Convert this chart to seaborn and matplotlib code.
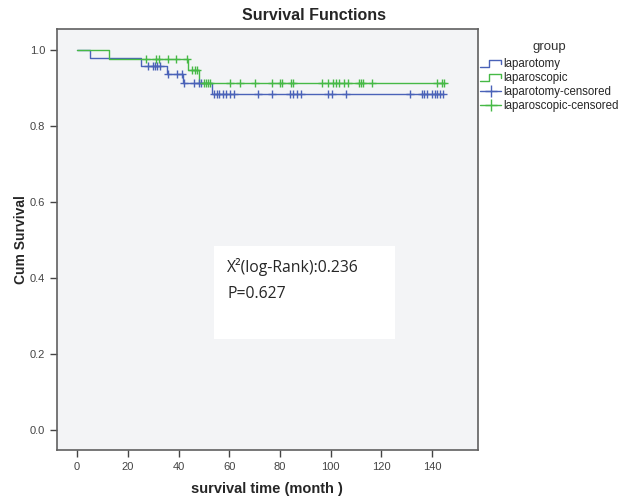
import matplotlib
matplotlib.use('Agg')
import matplotlib.pyplot as plt
import seaborn as sns
import numpy as np
import pandas as pd
from matplotlib.lines import Line2D
from matplotlib.patches import Rectangle
from matplotlib.legend_handler import HandlerBase

# Kaplan-Meier steps (time in months, cumulative survival)
lap_open_time = [0, 5.2, 25.2, 35.4, 41.9, 53.1, 144.4]
lap_open_surv = [1.0, 0.980, 0.959, 0.937, 0.914, 0.884, 0.884]
lap_scope_time = [0, 12.4, 43.7, 48.1, 144.8]
lap_scope_surv = [1.0, 0.978, 0.947, 0.914, 0.914]

# censored observations
lap_open_cens = [28.1, 29.9, 30.8, 31.6, 32.7, 36.0, 39.2, 41.3, 42.2, 46.2, 48.2, 49.0,
                 53.8, 55.0, 56.1, 57.4, 58.8, 60.4, 61.9, 71.3, 77.0, 84.0, 85.3, 86.8,
                 88.2, 99.1, 100.5, 106.2, 131.2, 136.0, 136.9, 138.0, 140.1, 141.0,
                 141.8, 143.2, 144.4]
lap_scope_cens = [27.2, 31.3, 32.2, 35.8, 39.0, 43.3, 45.3, 46.6, 47.3, 50.0, 50.8, 51.5,
                  52.5, 60.2, 64.1, 70.2, 76.8, 80.1, 81.0, 84.2, 85.3, 96.5, 99.1, 101.0,
                  102.2, 103.2, 105.1, 107.0, 111.0, 111.8, 112.6, 116.2, 141.9, 143.9,
                  144.8]

blue = '#4a62b8'
green = '#46b946'


def surv_at(times, survs, t):
    i = np.searchsorted(times, t, side='right') - 1
    return np.array(survs)[i]


sns.set_style('ticks')
plt.rcParams['font.family'] = ['Liberation Sans', 'DejaVu Sans']

fig = plt.figure(figsize=(6.18, 4.99), dpi=100)
ax = fig.add_axes([0.092, 0.098, 0.681, 0.843])
ax.set_facecolor('#f3f4f6')

df_open = pd.DataFrame({'time': lap_open_time, 'surv': lap_open_surv})
df_scope = pd.DataFrame({'time': lap_scope_time, 'surv': lap_scope_surv})
sns.lineplot(data=df_open, x='time', y='surv', color=blue, lw=1,
             drawstyle='steps-post', estimator=None, ax=ax)
sns.lineplot(data=df_scope, x='time', y='surv', color=green, lw=1,
             drawstyle='steps-post', estimator=None, ax=ax)

c_open = pd.DataFrame({'time': lap_open_cens,
                       'surv': surv_at(lap_open_time, lap_open_surv, lap_open_cens)})
c_scope = pd.DataFrame({'time': lap_scope_cens,
                        'surv': surv_at(lap_scope_time, lap_scope_surv, lap_scope_cens)})
ax.scatter(c_open['time'], c_open['surv'], marker='+', s=40, color=blue, lw=1, zorder=3)
ax.scatter(c_scope['time'], c_scope['surv'], marker='+', s=40, color=green, lw=1, zorder=3)

ax.set_xlim(-8, 158)
ax.set_ylim(-0.053, 1.055)
ax.set_xticks(np.arange(0, 141, 20))
ax.set_yticks(np.arange(0, 1.01, 0.2))
ax.yaxis.set_major_formatter(matplotlib.ticker.FormatStrFormatter('%.1f'))
ax.tick_params(direction='out', length=5, width=1, colors='#444444', labelsize=8,
               labelcolor='#444444')
for s in ax.spines.values():
    s.set_visible(True)
    s.set_color('#606060')
    s.set_linewidth(1.2)

ax.set_xlabel('survival time (month )', fontsize=10.5, fontweight='bold', labelpad=7)
ax.set_ylabel('Cum Survival', fontsize=10, fontweight='bold', labelpad=1)
fig.text(0.508, 1 - 15 / 499, 'Survival Functions', fontsize=11.5, fontweight='bold',
         ha='center', va='center')

# annotation box with log-rank result
ax.add_patch(Rectangle((54.0, 0.239), 71.4, 0.245, facecolor='white',
                       edgecolor='none', zorder=2))
ax.text(59.2, 0.429, 'X²(log-Rank):0.236', fontsize=11.3, family=['Open Sans', 'DejaVu Sans'],
        va='center', ha='left', zorder=3)
ax.text(59.2, 0.358, 'P=0.627', fontsize=11.3, family=['Open Sans', 'DejaVu Sans'],
        va='center', ha='left', zorder=3)


class StepHandler(HandlerBase):
    def create_artists(self, legend, orig_handle, xdescent, ydescent, width, height,
                       fontsize, trans):
        x0, y0 = -xdescent, -ydescent
        xs = [x0, x0 + 0.45 * width, x0 + 0.45 * width, x0 + width, x0 + width]
        ys = [y0 + 0.1 * height, y0 + 0.1 * height, y0 + 0.9 * height,
              y0 + 0.9 * height, y0 + 0.4 * height]
        return [Line2D(xs, ys, color=orig_handle.get_color(), lw=1, transform=trans)]


h_open = Line2D([], [], color=blue)
h_scope = Line2D([], [], color=green)
h_open_c = Line2D([], [], color=blue, lw=1, marker='+', markersize=9)
h_scope_c = Line2D([], [], color=green, lw=1, marker='+', markersize=9)
leg = fig.legend([h_open, h_scope, h_open_c, h_scope_c],
                 ['laparotomy', 'laparoscopic', 'laparotomy-censored', 'laparoscopic-censored'],
                 title='group', loc='upper left', bbox_to_anchor=(0.776, 0.918),
                 frameon=False, fontsize=8.3, title_fontsize=9.5, handlelength=1.9,
                 handletextpad=0.15, labelspacing=0.16, borderaxespad=0,
                 borderpad=0, handler_map={h_open: StepHandler(), h_scope: StepHandler()})
leg.get_title().set_color('#333333')
leg._legend_box.sep = 4

fig.savefig('out.png', dpi=100)
